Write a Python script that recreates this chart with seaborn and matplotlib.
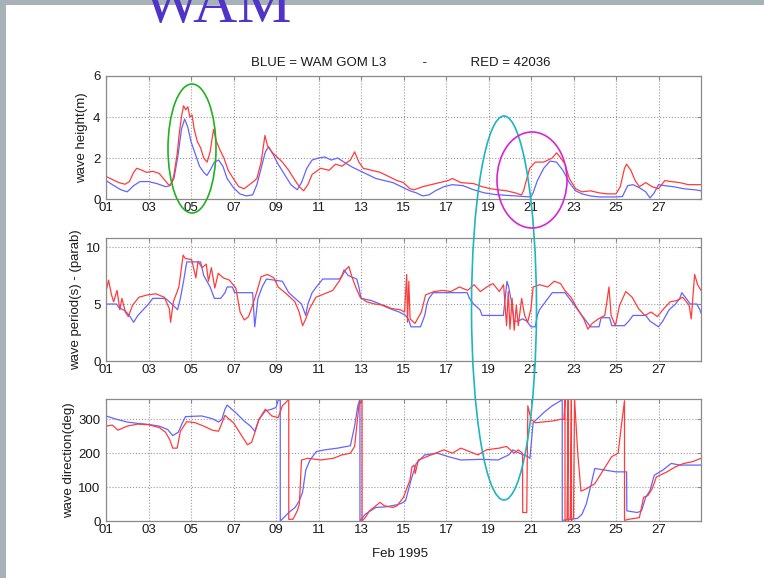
import pandas as pd
import matplotlib
matplotlib.use('Agg')
import matplotlib.pyplot as plt
from matplotlib.patches import Ellipse, Rectangle
import seaborn as sns

# MATLAB-like look
sns.set_style('white')
plt.rcParams['font.family'] = ['Liberation Sans', 'DejaVu Sans']
plt.rcParams['font.size'] = 9.5

BASE = pd.Timestamp('1995-02-01')
BLUE = '#6464FF'
RED = '#FF3C3C'

TICK_DAYS = [0, 2, 4, 6, 8, 10, 12, 14, 16, 18, 20, 22, 24, 26]
TICK_LABELS = ['01', '03', '05', '07', '09', '11', '13', '15', '17', '19', '21', '23', '25', '27']

# ---- wave height (m), time in days since Feb 01 ----
HS_BLUE_T = [0.0, 0.3, 0.7, 1.0, 1.3, 1.6, 2.0, 2.4, 2.8, 3.0, 3.2, 3.4, 3.55, 3.7, 3.85, 4.0, 4.2,
             4.4, 4.6, 4.75, 4.9, 5.1, 5.3, 5.5, 5.7, 6.0, 6.3, 6.6, 6.9, 7.1, 7.3, 7.5, 7.65, 7.85,
             8.1, 8.4, 8.7, 9.0, 9.2, 9.45, 9.7, 10.0, 10.3, 10.6, 10.9, 11.2, 11.6, 11.9, 12.3,
             12.7, 13.1, 13.5, 13.9, 14.3, 14.6, 14.9, 15.2, 15.5, 15.9, 16.3, 16.8, 17.3, 17.8,
             18.3, 18.8, 19.3, 19.7, 20.0, 20.1, 20.3, 20.6, 20.9, 21.2, 21.5, 21.8, 22.1, 22.4,
             22.8, 23.2, 23.6, 24.0, 24.3, 24.55, 24.8, 25.1, 25.4, 25.6, 25.8, 26.0, 26.3, 26.7,
             27.2, 27.7, 28.0]
HS_BLUE_V = [0.90, 0.70, 0.45, 0.35, 0.65, 0.85, 0.85, 0.75, 0.60, 0.65, 1.00, 2.20, 3.40, 3.90,
             3.50, 2.80, 2.20, 1.60, 1.30, 1.15, 1.40, 1.80, 1.90, 1.60, 1.00, 0.55, 0.25, 0.15,
             0.20, 0.70, 1.50, 2.30, 2.55, 2.20, 1.70, 1.20, 0.70, 0.45, 0.80, 1.50, 1.90, 2.00,
             2.05, 1.90, 2.00, 1.80, 1.55, 1.40, 1.20, 1.00, 0.90, 0.80, 0.60, 0.40, 0.30, 0.15,
             0.20, 0.40, 0.60, 0.70, 0.65, 0.45, 0.30, 0.22, 0.18, 0.15, 0.12, 0.10, 0.30, 0.90,
             1.50, 1.85, 1.80, 1.40, 0.80, 0.40, 0.25, 0.15, 0.10, 0.10, 0.10, 0.12, 0.65, 0.70,
             0.55, 0.35, 0.05, 0.30, 0.70, 0.65, 0.60, 0.50, 0.45, 0.40]
HS_RED_T = [0.0, 0.3, 0.6, 0.9, 1.1, 1.3, 1.45, 1.7, 1.9, 2.2, 2.5, 2.7, 2.9, 3.0, 3.1, 3.2, 3.35,
            3.45, 3.55, 3.65, 3.75, 3.85, 3.95, 4.05, 4.15, 4.3, 4.45, 4.6, 4.76, 4.9, 5.06, 5.2,
            5.36, 5.55, 5.75, 6.05, 6.25, 6.5, 6.75, 6.94, 7.1, 7.3, 7.48, 7.6, 7.8, 8.0, 8.3, 8.6,
            8.9, 9.1, 9.3, 9.5, 9.7, 10.1, 10.5, 10.8, 11.1, 11.5, 11.7, 11.9, 12.1, 12.5, 12.9,
            13.3, 13.7, 14.0, 14.3, 14.5, 14.9, 15.3, 15.7, 16.1, 16.3, 16.7, 17.3, 17.7, 18.1,
            18.45, 18.85, 19.25, 19.55, 19.65, 19.75, 19.94, 20.2, 20.6, 21.0, 21.2, 21.4, 21.6,
            21.8, 22.1, 22.4, 22.8, 23.2, 23.6, 24.0, 24.2, 24.4, 24.5, 24.7, 24.9, 25.1, 25.4,
            25.7, 26.0, 26.3, 26.6, 27.0, 27.4, 27.7, 28.0]
HS_RED_V = [1.10, 0.95, 0.80, 0.72, 0.85, 1.30, 1.50, 1.40, 1.30, 1.35, 1.25, 1.00, 0.75, 0.65,
            0.80, 1.20, 2.20, 3.20, 4.00, 4.55, 4.35, 4.50, 4.00, 4.10, 3.40, 2.80, 2.50, 2.00,
            1.80, 2.30, 3.40, 2.80, 2.40, 2.00, 1.40, 0.90, 0.60, 0.50, 0.70, 0.85, 1.00, 1.80,
            3.10, 2.60, 2.30, 2.10, 1.80, 1.40, 0.90, 0.60, 0.40, 0.70, 1.20, 1.50, 1.40, 1.70,
            1.60, 1.90, 2.30, 1.80, 1.50, 1.40, 1.30, 1.10, 0.90, 0.80, 0.50, 0.45, 0.60, 0.70,
            0.80, 0.90, 1.00, 0.80, 0.75, 0.60, 0.50, 0.45, 0.40, 0.30, 0.20, 0.40, 0.80, 1.50,
            1.80, 1.80, 2.00, 2.25, 2.00, 1.70, 1.00, 0.50, 0.35, 0.40, 0.30, 0.25, 0.25, 0.60,
            1.50, 1.70, 1.40, 0.90, 0.60, 0.80, 0.60, 0.50, 0.90, 0.85, 0.80, 0.70, 0.70, 0.70]

# ---- wave period (s) ----
TP_BLUE_T = [0.0, 0.5, 0.6, 0.9, 1.1, 1.3, 1.5, 1.8, 2.0, 2.2, 2.8, 3.1, 3.37, 3.5, 3.65, 3.8, 4.45,
             4.6, 4.9, 5.1, 5.4, 5.6, 5.7, 5.95, 6.05, 6.9, 7.0, 7.15, 7.35, 7.55, 8.3, 8.45, 8.6,
             8.9, 9.2, 9.3, 9.4, 9.5, 9.7, 9.9, 10.2, 11.0, 11.1, 11.2, 11.4, 11.8, 11.9, 12.0,
             12.5, 12.9, 13.1, 13.5, 13.8, 14.1, 14.25, 14.35, 14.8, 15.0, 15.1, 15.2, 15.4, 17.0,
             17.1, 17.3, 17.6, 17.7, 18.7, 18.87, 18.95, 19.1, 19.2, 19.4, 19.6, 19.8, 20.0, 20.2,
             20.3, 20.4, 20.6, 20.8, 21.0, 21.6, 21.8, 22.0, 22.2, 22.4, 22.6, 22.8, 23.2, 23.3,
             23.7, 23.8, 24.4, 24.6, 24.8, 25.4, 25.6, 26.0, 26.2, 26.5, 26.8, 27.0, 27.1, 27.3,
             27.5, 27.8, 27.95, 28.0]
TP_BLUE_V = [5.0, 5.0, 4.7, 4.4, 4.0, 3.4, 4.0, 4.6, 5.0, 5.5, 5.5, 5.0, 4.5, 5.5, 7.0, 8.7, 8.7,
             7.5, 6.5, 5.5, 5.5, 6.0, 6.5, 6.5, 6.0, 6.0, 3.0, 5.5, 6.5, 7.2, 7.0, 6.5, 6.0, 5.5,
             5.0, 4.5, 4.0, 5.0, 6.0, 6.5, 7.2, 7.2, 7.5, 8.0, 7.5, 7.2, 6.5, 5.5, 5.3, 5.0, 4.8,
             4.5, 4.3, 4.0, 3.6, 3.0, 3.0, 4.0, 5.0, 5.5, 6.0, 6.0, 5.5, 5.0, 4.5, 4.0, 4.0, 7.0,
             6.5, 5.0, 3.5, 3.5, 3.7, 3.5, 3.0, 3.0, 4.0, 4.5, 5.0, 5.5, 6.0, 6.0, 5.5, 5.0, 4.5,
             4.0, 3.5, 3.0, 3.0, 3.8, 3.8, 3.1, 3.1, 3.5, 4.0, 4.0, 3.5, 3.0, 3.5, 4.5, 5.0, 5.5,
             6.0, 5.5, 5.0, 5.0, 4.5, 4.2]
TP_RED_T = [0.00, 0.12, 0.26, 0.36, 0.52, 0.65, 0.75, 0.91, 1.05, 1.25, 1.55, 1.94, 2.34, 2.74,
            2.98, 3.04, 3.17, 3.43, 3.63, 3.73, 4.03, 4.23, 4.33, 4.52, 4.72, 4.82, 4.96, 5.12,
            5.28, 5.52, 5.81, 6.11, 6.31, 6.51, 6.71, 6.90, 7.10, 7.30, 7.60, 7.90, 8.10, 8.49,
            8.89, 9.09, 9.25, 9.38, 9.58, 9.88, 10.28, 10.67, 10.97, 11.27, 11.43, 11.57, 11.77,
            11.96, 12.26, 12.66, 13.06, 13.45, 13.85, 14.05, 14.15, 14.19, 14.25, 14.31, 14.54,
            14.84, 15.04, 15.44, 15.83, 16.23, 16.63, 17.02, 17.32, 17.62, 17.92, 18.21, 18.51,
            18.71, 18.85, 18.93, 19.01, 19.11, 19.21, 19.31, 19.40, 19.56, 19.70, 19.84, 20.00,
            20.10, 20.40, 20.79, 21.09, 21.39, 21.59, 21.88, 22.18, 22.48, 22.68, 22.88, 23.17,
            23.47, 23.57, 23.67, 23.77, 23.97, 24.17, 24.46, 24.76, 25.06, 25.36, 25.65, 25.95,
            26.25, 26.55, 26.85, 27.14, 27.44, 27.54, 27.70, 27.84, 28.00]
TP_RED_V = [6.1, 7.1, 5.8, 5.2, 6.2, 4.5, 5.5, 4.3, 3.9, 4.9, 5.6, 5.8, 5.9, 5.6, 4.6, 3.4, 5.2,
            6.5, 9.3, 9.0, 8.9, 7.3, 8.75, 8.2, 8.5, 7.0, 8.2, 6.4, 7.7, 7.3, 7.1, 6.4, 4.3, 3.6,
            3.9, 4.9, 6.1, 7.4, 7.6, 7.3, 6.5, 5.9, 5.2, 4.3, 3.1, 3.6, 4.6, 5.6, 5.9, 6.2, 7.0,
            8.0, 8.3, 7.4, 6.4, 5.6, 5.2, 5.0, 4.9, 4.6, 4.5, 4.3, 7.6, 3.4, 7.0, 3.7, 3.3, 4.3,
            5.8, 6.1, 6.2, 6.1, 6.5, 6.2, 6.7, 6.1, 6.5, 6.8, 6.1, 6.7, 3.1, 6.1, 2.8, 5.5, 2.7,
            4.9, 3.1, 5.5, 4.0, 3.4, 4.6, 6.5, 6.7, 6.5, 7.0, 6.8, 6.2, 5.6, 4.6, 3.7, 2.8, 3.3,
            3.7, 4.0, 5.2, 6.5, 4.0, 3.1, 4.9, 6.1, 5.6, 4.6, 4.0, 4.3, 3.9, 4.6, 5.2, 5.3, 5.6,
            4.9, 3.7, 7.6, 6.7, 6.2]

# ---- wave direction (deg) ----
DIR_BLUE_T = [0.0, 0.5, 1.0, 1.5, 2.0, 2.5, 2.9, 3.14, 3.4, 3.6, 3.74, 4.5, 5.0, 5.3, 5.45, 5.6,
              5.7, 6.1, 6.5, 6.8, 7.0, 7.2, 7.5, 7.8, 8.0, 8.1, 8.2, 8.201, 8.4, 8.6, 8.9, 9.1,
              9.25, 9.4, 9.6, 9.9, 10.3, 10.9, 11.5, 11.7, 11.85, 11.95, 11.951, 12.2, 12.7,
              13.2, 13.7, 13.9, 14.1, 14.35, 14.6, 15.0, 15.6, 16.1, 16.7, 17.65, 18.45, 18.95,
              19.15, 19.45, 19.85, 19.95, 20.1, 20.6, 21.0, 21.4, 21.47, 21.471, 21.9, 22.2,
              22.4, 22.6, 22.8, 23.0, 23.5, 24.0, 24.5, 24.51, 25.0, 25.2, 25.4, 25.6, 25.8,
              26.2, 26.6, 27.0, 28.0]
DIR_BLUE_V = [310, 300, 292, 288, 285, 280, 270, 252, 262, 290, 308, 310, 302, 292, 300, 330,
              342, 320, 295, 280, 265, 300, 325, 330, 335, 355, 360, 0, 12, 25, 40, 60, 85, 150,
              180, 205, 210, 215, 222, 280, 340, 360, 0, 20, 40, 42, 48, 52, 60, 120, 170, 195,
              200, 190, 180, 182, 180, 195, 210, 200, 190, 185, 290, 320, 340, 355, 360, 2, 5,
              8, 20, 50, 100, 155, 150, 145, 145, 30, 25, 30, 70, 90, 135, 150, 170, 165, 165]
DIR_RED_T = [0.0, 0.3, 0.56, 1.0, 1.5, 2.0, 2.5, 2.8, 3.0, 3.14, 3.35, 3.5, 3.8, 4.2, 4.6, 5.0,
             5.3, 5.6, 5.8, 6.0, 6.2, 6.4, 6.66, 6.85, 7.0, 7.2, 7.5, 7.8, 8.1, 8.3, 8.5, 8.6,
             8.601, 8.8, 9.0, 9.1, 9.2, 9.5, 10.1, 10.7, 11.1, 11.5, 11.7, 11.9, 12.05, 12.051,
             12.2, 12.4, 12.9, 13.1, 13.5, 13.7, 14.0, 14.3, 14.4, 14.5, 14.55, 14.7, 15.1, 15.5,
             15.9, 16.3, 16.7, 17.1, 17.5, 17.9, 18.5, 18.85, 19.2, 19.4, 19.6, 19.61, 19.8,
             19.85, 20.0, 20.2, 21.0, 21.4, 21.55, 21.6, 21.601, 21.7, 21.75, 21.751, 21.85,
             21.9, 21.901, 22.0, 22.05, 22.2, 22.35, 22.6, 23.0, 23.4, 23.8, 24.1, 24.25, 24.4,
             24.401, 24.6, 25.1, 25.2, 25.3, 25.5, 25.7, 25.9, 26.4, 26.8, 27.2, 27.6, 28.0]
DIR_RED_V = [280, 283, 268, 280, 286, 284, 276, 262, 240, 215, 215, 265, 293, 290, 280, 268,
             265, 312, 300, 290, 270, 250, 225, 232, 260, 300, 330, 310, 305, 340, 352, 360, 5,
             5, 30, 50, 180, 185, 180, 185, 195, 200, 220, 340, 360, 0, 10, 30, 55, 45, 40, 45,
             70, 120, 160, 165, 140, 180, 190, 200, 210, 200, 215, 205, 195, 210, 215, 220, 200,
             210, 200, 25, 25, 340, 300, 290, 295, 300, 300, 360, 0, 5, 360, 0, 10, 360, 0, 10,
             360, 200, 88, 95, 110, 150, 190, 200, 280, 355, 2, 5, 10, 40, 70, 75, 95, 130, 145,
             160, 170, 175, 185]

PANELS = [
    ('wave height(m)', HS_BLUE_T, HS_BLUE_V, HS_RED_T, HS_RED_V, (0, 6), [0, 2, 4, 6]),
    ('wave period(s) - (parab)', TP_BLUE_T, TP_BLUE_V, TP_RED_T, TP_RED_V, (0, 10.8), [0, 5, 10]),
    ('wave direction(deg)', DIR_BLUE_T, DIR_BLUE_V, DIR_RED_T, DIR_RED_V, (0, 360), [0, 100, 200, 300]),
]

W, H = 764, 578
# axes boxes in pixels: left, top, right, bottom
BOXES = [(106, 76, 701, 199), (106, 238, 701, 361), (106, 399, 701, 521)]
# ylabel sits just left of the tick labels, like MATLAB
YLABEL_X = [-0.030, -0.040, -0.052]


def panel_df(bt, bv, rt, rv):
    blue = pd.DataFrame({'t': bt, 'value': bv, 'source': 'WAM GOM L3'})
    red = pd.DataFrame({'t': rt, 'value': rv, 'source': '42036'})
    df = pd.concat([blue, red], ignore_index=True)
    df['time'] = BASE + pd.to_timedelta(df['t'], unit='D')
    return df


fig = plt.figure(figsize=(W / 100, H / 100), dpi=100)
fig.patch.set_facecolor('white')

# slide background strips
GRAY = '#A6B2B8'
fig.add_artist(Rectangle((0, 1 - 5 / H), 1, 5 / H, transform=fig.transFigure,
                         facecolor=GRAY, edgecolor='none', zorder=0))
fig.add_artist(Rectangle((0, 0), 6 / W, 1, transform=fig.transFigure,
                         facecolor=GRAY, edgecolor='none', zorder=0))

tick_dates = [BASE + pd.Timedelta(days=d) for d in TICK_DAYS]
axes = []
for (label, bt, bv, rt, rv, ylim, yticks), (l, t, r, b), lx in zip(PANELS, BOXES, YLABEL_X):
    ax = fig.add_axes([l / W, 1 - b / H, (r - l) / W, (b - t) / H])
    df = panel_df(bt, bv, rt, rv)
    sns.lineplot(data=df, x='time', y='value', hue='source',
                 palette={'WAM GOM L3': BLUE, '42036': RED},
                 estimator=None, sort=False, legend=False, linewidth=0.9, ax=ax)
    ax.set_xlim(BASE, BASE + pd.Timedelta(days=28))
    ax.set_ylim(*ylim)
    ax.set_xticks(tick_dates)
    ax.set_xticklabels(TICK_LABELS)
    ax.set_yticks(yticks)
    ax.grid(True, linestyle=':', color='#9a9a9a', linewidth=0.8)
    for s in ax.spines.values():
        s.set_visible(True)
        s.set_color('#8a8a8a')
        s.set_linewidth(0.9)
    ax.tick_params(axis='both', direction='in', length=3, width=0.8, color='#8a8a8a',
                   top=True, right=True, labelsize=9.5, labelcolor='#1a1a1a')
    ax.tick_params(axis='x', pad=2.5)
    ax.tick_params(axis='y', pad=4)
    ax.set_xlabel('')
    ax.set_ylabel(label, fontsize=9.5, color='#1a1a1a')
    ax.yaxis.set_label_coords(lx, 0.5)
    axes.append(ax)

axes[-1].set_xlabel('Feb 1995', fontsize=9.5, color='#1a1a1a')
axes[-1].xaxis.set_label_coords(0.494, -0.295)
axes[-1].xaxis.label.set_va('baseline')

fig.text(251 / W, 1 - 65.5 / H,
         'BLUE = WAM GOM L3' + ' ' * 10 + '-' + ' ' * 12 + 'RED = 42036',
         ha='left', va='baseline', fontsize=9.5, color='#1a1a1a')

# slide heading, cut by the top of the frame
fig.text(143 / W, 1 - 22.3 / H, 'WAM', ha='left', va='baseline',
         fontsize=44, color='#5033C8', family=['Liberation Serif', 'DejaVu Serif'], zorder=5)

# hand-drawn annotation ellipses (pixel centre, width, height)
for (cx, cy, ew, eh), col in [((192, 148.5, 48, 129), '#22B022'),
                              ((504, 308, 65, 384), '#20B4BE'),
                              ((532, 180, 70, 96), '#D624D6')]:
    fig.add_artist(Ellipse((cx / W, 1 - cy / H), ew / W, eh / H, transform=fig.transFigure,
                           fill=False, edgecolor=col, linewidth=1.2, zorder=6))

fig.savefig('out.png', dpi=100)
